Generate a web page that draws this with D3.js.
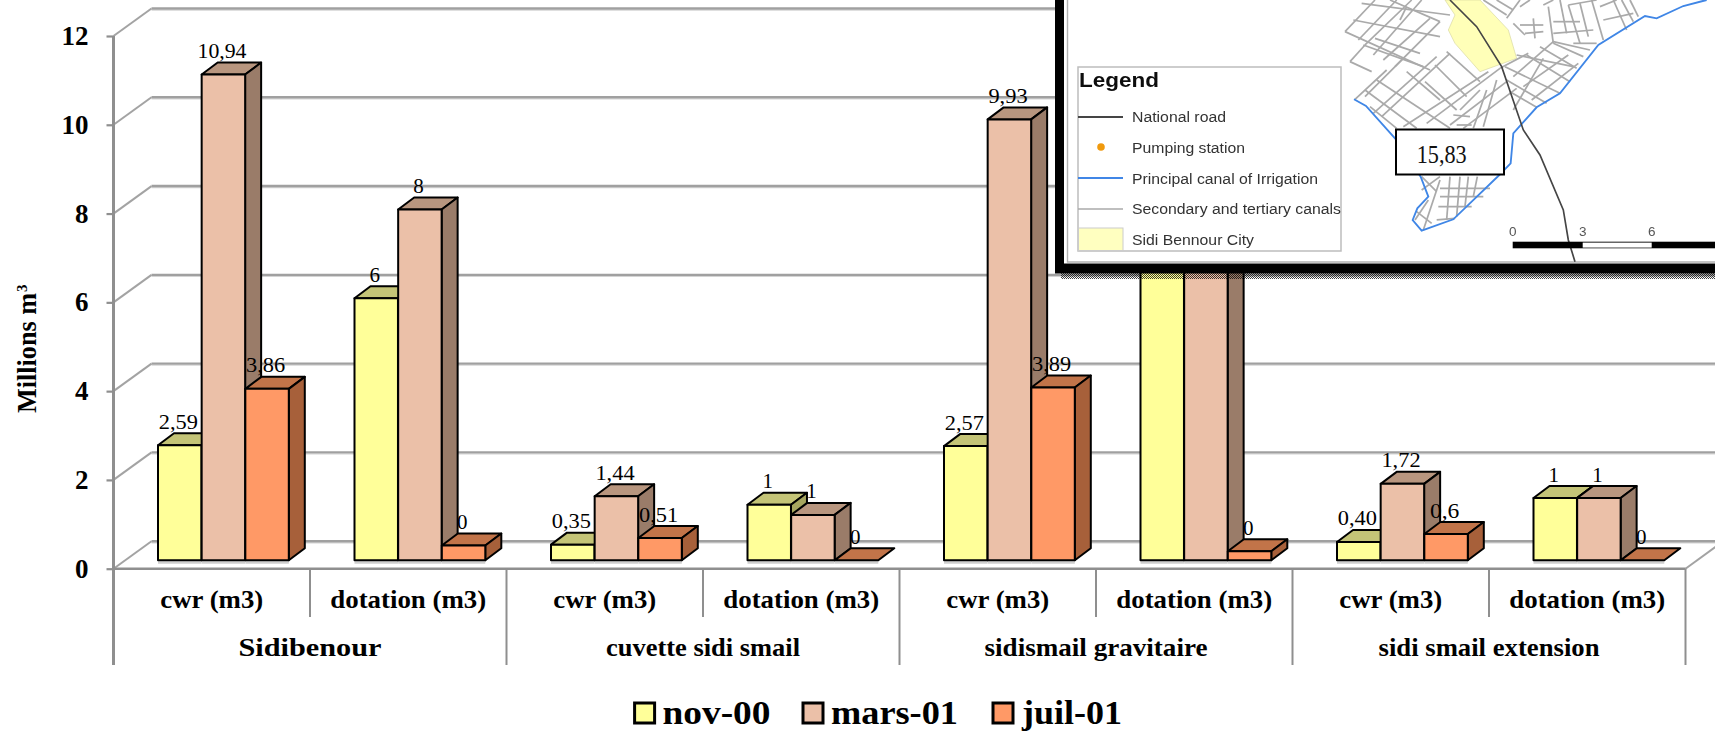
<!DOCTYPE html>
<html><head><meta charset="utf-8">
<script src="https://cdn.jsdelivr.net/npm/d3@7/dist/d3.min.js"></script>
<style>html,body{margin:0;padding:0;background:#fff;overflow:hidden}svg{display:block}</style>
</head><body><svg id="c" width="1715" height="733"></svg>
<script>
const groups = ["Sidibenour","cuvette sidi smail","sidismail gravitaire","sidi smail extension"];
const subcats = ["cwr (m3)","dotation (m3)"];
const seriesNames = ["nov-00","mars-01","juil-01"];
const nov  = [2.59,5.9,0.35,1.25,2.57,8,0.41,1.4];
const mars = [10.94,7.9,1.44,1.02,9.93,15.83,1.72,1.4];
const juil = [3.86,0.33,0.5,0,3.89,0.2,0.59,0];
const novLabels  = ["2,59","6","0,35","1","2,57","","0,40","1"];
const marsLabels = ["10,94","8","1,44","1","9,93","","1,72","1"];
const juilLabels = ["3,86","0","0,51","0","3,89","0","0,6","0"];
const yTicks = [0,2,4,6,8,10,12];
const legendRows = ["National road","Pumping station","Principal canal of Irrigation","Secondary and tertiary canals","Sidi Bennour City"];
const scaleLabels = ["0","3","6"];

// inset map tracing (pixel units of a 3x view of the inset)
const canal = [[42,298],[78,318],[165,415],[242,530],[265,590],[232,625],[218,660],[245,692],[340,658],[478,525],[512,490],[520,400],[590,322],[660,280],[775,135],[915,48],[950,55],[1030,18],[1100,0]];
const road = [[330,0],[410,80],[485,200],[550,390],[600,465],[670,630],[685,720],[705,785]];
const city = [[315,0],[345,45],[325,90],[345,130],[420,215],[530,175],[505,90],[420,0]];
const streets = [
[15,95,105,0],[55,120,170,0],[75,135,215,0],[100,165,245,0],[130,180,270,55],[165,200,300,65],
[40,60,300,110],[65,10,330,45],[15,95,270,210],[30,185,95,215],[30,185,75,135],[70,135,250,200],[105,115,240,160],[150,0,300,65],[200,20,180,60],
[45,298,140,210],[75,290,190,175],[100,340,290,170],[125,350,330,160],[190,380,445,215],[260,370,480,205],[330,375,500,245],[370,385,530,265],
[110,240,330,385],[75,270,230,385],[90,320,170,385],[200,215,300,300],[255,245,350,330],[285,195,380,290],[320,155,420,245],
[340,345,390,350],[350,375,395,375],[360,330,420,270],[400,385,440,270],[430,380,470,240],
[495,200,660,280],[500,240,620,310],[510,275,590,322],[480,205,565,160],[530,165,700,200],[560,165,690,245],[600,140,710,205],[640,125,750,150],[520,230,640,125],[550,260,685,165],[575,300,715,190],[520,330,610,175],
[500,55,540,0],[540,75,610,75],[555,100,610,95],[580,55,585,115],[520,70,555,105],[610,15,640,0],[430,0,500,45],[470,0,520,30],[540,20,570,0],
[625,20,640,130],[640,65,720,65],[640,100,760,90],[685,15,770,0],[685,15,720,130],[720,10,745,110],[755,0,790,120],[780,20,830,0],[820,0,860,90],[870,0,895,50],[845,0,880,65],[790,60,880,40],[700,130,770,130],[640,130,730,170],[660,0,680,100],
[245,570,300,530],[225,660,265,600],[230,635,275,670],[250,690,300,540],[330,530,320,660],[360,530,350,650],[385,530,375,620],[412,530,400,590],
[300,565,450,565],[300,590,430,590],[295,620,395,620],[290,660,345,655],[245,530,290,575]
];

const W = 1715, H = 733;
const svg = d3.select("#c");
const serif = "'Liberation Serif','Times New Roman',serif";
const sans = "'Liberation Sans',Arial,sans-serif";
const axisGrey = "#8f8f8f";

const y = d3.scaleLinear().domain([0,12]).range([568.7,36]);
const cats = d3.range(8);
const x = d3.scaleBand().domain(cats).range([113.5,1685.5]);
const xs = d3.scaleBand().domain(seriesNames).range([44.5,175.5]);
const depthX = 38, depthY = 27.5;
const barDX = 16, barDY = 12;
const baseLift = 8.5;

const styles = {
 "nov-00": {front:"#FFFF99",top:"#C4C477",side:"#A6A65F"},
 "mars-01":{front:"#EBC0A8",top:"#B8967F",side:"#9A7C69"},
 "juil-01":{front:"#FF9966",top:"#C27449",side:"#A7603A"}
};
const seriesData = [
 {name:"nov-00",values:nov,labels:novLabels},
 {name:"mars-01",values:mars,labels:marsLabels},
 {name:"juil-01",values:juil,labels:juilLabels}
];

// walls & grid
const grid = svg.append("g");
yTicks.forEach(t=>{
  const yy = y(t);
  grid.append("line").attr("x1",113.5).attr("y1",yy).attr("x2",113.5+depthX).attr("y2",yy-depthY).attr("stroke","#a3a3a3").attr("stroke-width",2);
  grid.append("line").attr("x1",113.5+depthX).attr("y1",yy-depthY+1.6).attr("x2",W).attr("y2",yy-depthY+1.6).attr("stroke","#d4d4d4").attr("stroke-width",1.2);
  grid.append("line").attr("x1",113.5+depthX).attr("y1",yy-depthY).attr("x2",W).attr("y2",yy-depthY).attr("stroke","#a0a0a0").attr("stroke-width",2.4);
});
grid.append("line").attr("x1",1685.5).attr("y1",y(0)).attr("x2",1685.5+depthX).attr("y2",y(0)-depthY).attr("stroke","#a3a3a3").attr("stroke-width",2);
grid.append("line").attr("x1",113.5).attr("y1",y(0)).attr("x2",1685.5).attr("y2",y(0)).attr("stroke",axisGrey).attr("stroke-width",2.6);

// category dividers
cats.forEach(i=>{
  grid.append("line").attr("x1",x(i)).attr("x2",x(i)).attr("y1",y(0)).attr("y2",i%2?617:665).attr("stroke",axisGrey).attr("stroke-width",2);
});
grid.append("line").attr("x1",1685.5).attr("x2",1685.5).attr("y1",y(0)).attr("y2",665).attr("stroke",axisGrey).attr("stroke-width",2);

// y axis
const yAxis = d3.axisLeft(y).tickValues(yTicks).tickSize(7).tickPadding(18).tickFormat(d3.format("d"));
const ag = svg.append("g").attr("transform","translate(113.5,0)").call(yAxis);
ag.select(".domain").remove();
ag.selectAll(".tick line").attr("stroke",axisGrey).attr("stroke-width",2.2);
ag.selectAll(".tick text").attr("font-family",serif).attr("font-weight","bold").attr("font-size",27).attr("fill","#000");
svg.append("line").attr("x1",113.5).attr("x2",113.5).attr("y1",36).attr("y2",665).attr("stroke",axisGrey).attr("stroke-width",3);

// 3D bars
const bars = svg.append("g");
cats.forEach(i=>{
  seriesData.forEach(s=>{
    const v = s.values[i], st = styles[s.name];
    const xl = x(i)+xs(s.name), bw = xs.bandwidth()-0.2;
    const yb = y(0)-baseLift, yt = y(v)-baseLift;
    const g = bars.append("g").attr("stroke","#000").attr("stroke-width",2).attr("stroke-linejoin","round");
    g.append("path").attr("fill","#cfcfcf").attr("stroke","none").attr("d",`M${xl},${yb+1}h${bw}v2.5h${-bw}z`);
    const p = d3.path();
    p.moveTo(xl,yt);p.lineTo(xl+barDX,yt-barDY);p.lineTo(xl+bw+barDX,yt-barDY);p.lineTo(xl+bw,yt);p.closePath();
    g.append("path").attr("fill",st.top).attr("d",p.toString());
    if(v>0){
      const q = d3.path();
      q.moveTo(xl+bw,yt);q.lineTo(xl+bw+barDX,yt-barDY);q.lineTo(xl+bw+barDX,yb-barDY);q.lineTo(xl+bw,yb);q.closePath();
      g.append("path").attr("fill",st.side).attr("d",q.toString());
      g.append("rect").attr("x",xl).attr("y",yt).attr("width",bw).attr("height",yb-yt).attr("fill",st.front);
    }
  });
});
// data labels
const labs = svg.append("g").attr("font-family",serif).attr("font-size",21).attr("fill","#000").attr("text-anchor","middle");
cats.forEach(i=>{
  seriesData.forEach(s=>{
    const t = s.labels[i]; if(!t) return;
    const el = labs.append("text").attr("x",x(i)+xs(s.name)+xs.bandwidth()/2-1.5).attr("y",y(s.values[i])-baseLift-barDY-4.5).text(t);
    if(t.length>1) el.attr("textLength",t.length*9.8).attr("lengthAdjust","spacingAndGlyphs");
  });
});

// category labels
function stretched(parent,txt,cx,base,size,w,bold){
  return parent.append("text").attr("x",cx).attr("y",base).attr("text-anchor","middle")
   .attr("font-family",serif).attr("font-size",size).attr("font-weight",bold?"bold":"normal")
   .attr("textLength",w).attr("lengthAdjust","spacingAndGlyphs").text(txt);
}
cats.forEach(i=>{
  stretched(svg,subcats[i%2],x(i)+x.bandwidth()/2,608,26,i%2?156:103,true);
});
const groupWidths = [143,194,223,221];
groups.forEach((g,k)=>{
  stretched(svg,g,x(k*2)+x.bandwidth(),656,25,groupWidths[k],true);
});

// axis title
const yt = svg.append("g").attr("transform","translate(36,413) rotate(-90)");
yt.append("text").attr("font-family",serif).attr("font-weight","bold").attr("font-size",28)
  .attr("textLength",120).attr("lengthAdjust","spacingAndGlyphs").text("Millions m");
yt.append("text").attr("x",121).attr("y",-9).attr("font-family",serif).attr("font-weight","bold").attr("font-size",15).text("3");

// legend
const legendX = [634.6,803,993], legendTextX=[662.5,831,1022], legendTextW=[108,127,100];
seriesData.forEach((s,i)=>{
  svg.append("rect").attr("x",legendX[i]).attr("y",703).attr("width",20).attr("height",20).attr("fill",styles[s.name].front).attr("stroke","#000").attr("stroke-width",3);
  svg.append("text").attr("x",legendTextX[i]).attr("y",724).attr("font-family",serif).attr("font-weight","bold").attr("font-size",33)
    .attr("textLength",legendTextW[i]).attr("lengthAdjust","spacingAndGlyphs").text(s.name);
});

// inset
const defs = svg.append("defs");
const pat = defs.append("pattern").attr("id","hatch").attr("width",2).attr("height",2).attr("patternUnits","userSpaceOnUse");
pat.append("rect").attr("width",1).attr("height",1).attr("fill","#000");
pat.append("rect").attr("x",1).attr("y",1).attr("width",1).attr("height",1).attr("fill","#000");
defs.append("filter").attr("id","soft").append("feGaussianBlur").attr("stdDeviation",0.5);

svg.append("rect").attr("x",1061).attr("y",273).attr("width",W-1061).attr("height",6).attr("fill","url(#hatch)").attr("opacity",0.75);
svg.append("rect").attr("x",1055).attr("y",-10).attr("width",W-1055+10).attr("height",283.5).attr("fill","#000");
svg.append("rect").attr("x",1064).attr("y",-10).attr("width",W-1064+10).attr("height",273.5).attr("fill","#fff");
svg.append("path").attr("d",`M1067.5,0V262H${W}`).attr("fill","none").attr("stroke","#b0b0b0").attr("stroke-width",1.4);

const inset = svg.append("g").attr("filter","url(#soft)");
const map = inset.append("g").attr("transform","translate(1340,0) scale(0.3333)");
const line = d3.line();
map.append("path").attr("d",line(city)+"Z").attr("fill","#FFFFB8").attr("stroke","#d8d8a0").attr("stroke-width",2);
map.selectAll("line.st").data(streets).join("line").attr("class","st")
  .attr("x1",d=>d[0]).attr("y1",d=>d[1]).attr("x2",d=>d[2]).attr("y2",d=>d[3])
  .attr("stroke","#aaaaaa").attr("stroke-width",5.2);
map.append("path").attr("d",line(canal)).attr("fill","none").attr("stroke","#3f86e6").attr("stroke-width",5.5);
map.append("path").attr("d",line(road)).attr("fill","none").attr("stroke","#444").attr("stroke-width",5);

// inset legend
inset.append("rect").attr("x",1078).attr("y",67).attr("width",263).attr("height",184).attr("fill","none").attr("stroke","#bdbdbd").attr("stroke-width",1.5);
inset.append("text").attr("x",1079).attr("y",87).attr("font-family",sans).attr("font-weight","bold").attr("font-size",21)
  .attr("textLength",80).attr("lengthAdjust","spacingAndGlyphs").attr("fill","#111").text("Legend");
const rowY=[122,153,184,214,245], rowW=[94,113,186,209,122];
legendRows.forEach((t,i)=>{
  inset.append("text").attr("x",1132).attr("y",rowY[i]).attr("font-family",sans).attr("font-size",15.5).attr("fill","#333")
    .attr("textLength",rowW[i]).attr("lengthAdjust","spacingAndGlyphs").text(t);
});
inset.append("line").attr("x1",1078).attr("x2",1123).attr("y1",117).attr("y2",117).attr("stroke","#444").attr("stroke-width",1.8);
inset.append("circle").attr("cx",1101).attr("cy",147).attr("r",3.8).attr("fill","#F09A10");
inset.append("line").attr("x1",1078).attr("x2",1123).attr("y1",178).attr("y2",178).attr("stroke","#3f86e6").attr("stroke-width",2);
inset.append("line").attr("x1",1078).attr("x2",1123).attr("y1",209).attr("y2",209).attr("stroke","#aaa").attr("stroke-width",1.3);
inset.append("rect").attr("x",1078.5).attr("y",228).attr("width",44.5).attr("height",22.5).attr("fill","#FFFFC0").attr("stroke","#ccc").attr("stroke-width",1);

// scale bar
const barStops=[1512.7,1582.7,1651.7,W];
inset.append("rect").attr("x",barStops[0]).attr("y",241.7).attr("width",barStops[3]-barStops[0]).attr("height",6.6).attr("fill","#000");
inset.append("rect").attr("x",barStops[1]).attr("y",242.6).attr("width",barStops[2]-barStops[1]).attr("height",5).attr("fill","#fff");
scaleLabels.forEach((t,i)=>{
  inset.append("text").attr("x",barStops[i]).attr("y",236).attr("text-anchor","middle").attr("font-family",sans).attr("font-size",13.5).attr("fill","#555").text(t);
});

// value box
svg.append("rect").attr("x",1396).attr("y",129.5).attr("width",108).attr("height",45).attr("fill","#fff").attr("stroke","#000").attr("stroke-width",2);
svg.append("text").attr("x",1416.7).attr("y",163).attr("font-family",serif).attr("font-size",25).attr("fill","#111")
  .attr("textLength",50).attr("lengthAdjust","spacingAndGlyphs").text("15,83");
</script></body></html>
